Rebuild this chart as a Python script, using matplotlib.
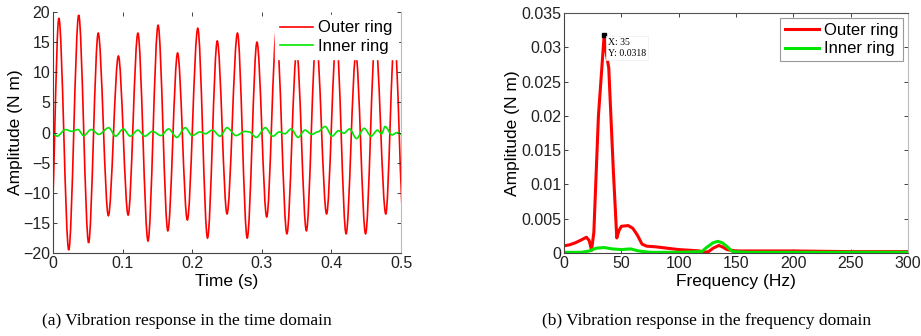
import matplotlib
matplotlib.use("Agg")
import matplotlib.pyplot as plt
from matplotlib.path import Path
from matplotlib.patches import PathPatch
from matplotlib.lines import Line2D
from matplotlib.ticker import FuncFormatter

# time domain: extrema of the outer ring signal (s, N m)
outer_t = [-0.0035, 0.0085, 0.0227, 0.037, 0.0512, 0.065, 0.0796, 0.094, 0.108,
           0.122, 0.1365, 0.151, 0.165, 0.179, 0.193, 0.208, 0.222, 0.236, 0.250,
           0.265, 0.279, 0.293, 0.307, 0.321, 0.336, 0.350, 0.364, 0.378, 0.393,
           0.407, 0.421, 0.435, 0.449, 0.463, 0.478, 0.4905, 0.504]
outer_v = [-19.0, 19.0, -19.5, 19.5, -18.3, 16.5, -13.8, 12.7, -13.7,
           16.5, -18.0, 17.8, -16.3, 13.2, -14.5, 17.3, -17.5, 15.2, -13.5,
           16.5, -17.5, 15.0, -14.0, 17.0, -16.8, 13.5, -16.3, 16.0, -13.5,
           16.0, -16.8, 13.0, -16.8, 16.0, -13.5, 16.0, -16.0]

# time domain: extrema of the inner ring signal
inner_t = [0.000, 0.006, 0.018, 0.027, 0.036, 0.044, 0.055, 0.066, 0.080, 0.090,
           0.101, 0.111, 0.122, 0.132, 0.143, 0.155, 0.166, 0.178, 0.190, 0.200,
           0.211, 0.219, 0.229, 0.240, 0.250, 0.263, 0.276, 0.282, 0.292, 0.305,
           0.316, 0.325, 0.333, 0.342, 0.352, 0.362, 0.372, 0.380, 0.391, 0.401,
           0.410, 0.418, 0.426, 0.436, 0.447, 0.457, 0.466, 0.472, 0.477, 0.487,
           0.494, 0.500]
inner_v = [-0.2, -0.6, 0.5, 0.2, 0.5, -0.5, 0.5, -0.3, 0.8, -0.6,
           0.6, -0.6, 0.4, -0.6, 0.2, -0.5, 0.6, -0.8, 0.8, -0.5,
           0.1, -0.2, 0.4, -0.6, 0.8, -0.5, 0.2, 0.1, -0.8, 0.8,
           -0.6, 0.1, -0.2, 0.6, -0.8, 0.4, -0.3, 0.1, 1.0, -0.6,
           0.3, -0.1, 0.6, -1.0, 0.7, -0.6, 0.4, -0.2, 1.0, -0.4,
           0.0, -0.3]

# frequency domain (Hz, N m)
outer_f = [0, 5, 10, 15, 19.5, 22, 24, 26, 30, 35, 37, 39, 43, 46, 48, 50, 56, 60,
           64, 68, 72, 80, 90, 100, 110, 118, 122, 126, 130, 135, 138, 142, 146,
           150, 170, 200, 250, 300]
outer_a = [0.00105, 0.0012, 0.0015, 0.0019, 0.0023, 0.0018, 0.0004, 0.003, 0.02,
           0.0318, 0.029, 0.027, 0.012, 0.0022, 0.0033, 0.0039, 0.004, 0.0036,
           0.0026, 0.0013, 0.001, 0.0009, 0.0007, 0.0005, 0.0004, 0.0003, 0.0001,
           0.0002, 0.0007, 0.0011, 0.0009, 0.0005, 0.0004, 0.0003, 0.0003,
           0.0003, 0.0002, 0.0002]
inner_f = [0, 15, 22, 28, 35, 42, 50, 58, 65, 75, 100, 120, 125, 130, 134, 138,
           143, 147, 160, 200, 300]
inner_a = [0.0001, 0.0001, 0.0003, 0.0007, 0.0008, 0.0006, 0.0005, 0.0006, 0.0003,
           0.0001, 0.0001, 0.0002, 0.0009, 0.0015, 0.0017, 0.0015, 0.0008, 0.0002,
           0.0001, 0.0001, 0.0001]

peak_f, peak_a = 35, 0.0318
labels = ["Outer ring", "Inner ring"]
red = "#ff0000"
green = "#00e600"


def wave_path(t, v):
    # smooth half-waves between extrema (horizontal tangent at each extremum)
    verts = [(t[0], v[0])]
    codes = [Path.MOVETO]
    for i in range(len(t) - 1):
        dt = t[i + 1] - t[i]
        verts += [(t[i] + dt / 3, v[i]), (t[i + 1] - dt / 3, v[i + 1]), (t[i + 1], v[i + 1])]
        codes += [Path.CURVE4] * 3
    return Path(verts, codes)


def style_axes(ax):
    ax.tick_params(direction="in", length=3, width=0.6, top=True, right=True,
                   labelsize=11.5, colors="#222222", pad=2)
    for side in ["top", "right"]:
        ax.spines[side].set_color("#bbbbbb")
    for side in ["left", "bottom"]:
        ax.spines[side].set_color("#444444")
    for sp in ax.spines.values():
        sp.set_linewidth(0.8)


plt.rcParams["font.family"] = ["Liberation Sans", "DejaVu Sans"]
fig = plt.figure(figsize=(9.21, 3.36), dpi=100)

# (a) time domain
ax1 = fig.add_axes([0.0575, 0.247, 0.378, 0.717])
ax1.add_patch(PathPatch(wave_path(outer_t, outer_v), fill=False, edgecolor=red, lw=1.2))
ax1.add_patch(PathPatch(wave_path(inner_t, inner_v), fill=False, edgecolor=green, lw=1.2))
ax1.set_xlim(0, 0.5)
ax1.set_ylim(-20, 20)
ax1.set_xticks([0, 0.1, 0.2, 0.3, 0.4, 0.5])
ax1.set_yticks(range(-20, 21, 5))
ax1.xaxis.set_major_formatter(FuncFormatter(lambda x, p: "%g" % x))
ax1.set_xlabel("Time (s)", fontsize=12.5, labelpad=2)
ax1.set_ylabel("Amplitude (N m)", fontsize=12.5, labelpad=0)
style_axes(ax1)
ax1.spines["top"].set_visible(False)
h1 = [Line2D([], [], color=red, lw=1.2), Line2D([], [], color=green, lw=1.2)]
leg1 = ax1.legend(h1, labels, loc="upper right", fontsize=12, frameon=True,
                  fancybox=False, edgecolor="white", framealpha=1,
                  borderaxespad=0.2, handlelength=2.0, handletextpad=0.3,
                  labelspacing=0.2, borderpad=0.3)

# (b) frequency domain
ax2 = fig.add_axes([0.6124, 0.247, 0.3736, 0.714])
ax2.plot(outer_f, outer_a, color=red, lw=2.2)
ax2.plot(inner_f, inner_a, color=green, lw=2.2)
ax2.set_xlim(0, 300)
ax2.set_ylim(0, 0.035)
ax2.set_xticks(range(0, 301, 50))
ax2.set_yticks([0, 0.005, 0.01, 0.015, 0.02, 0.025, 0.03, 0.035])
ax2.yaxis.set_major_formatter(FuncFormatter(lambda y, p: "%g" % round(y, 4)))
ax2.set_xlabel("Frequency (Hz)", fontsize=12.5, labelpad=2)
ax2.set_ylabel("Amplitude (N m)", fontsize=12.5, labelpad=1)
style_axes(ax2)
ax2.spines["top"].set_color("#555555")
ax2.plot([peak_f], [peak_a], "s", color="black", ms=3.5)
ax2.text(peak_f + 3, peak_a - 0.0004, "X: %g\nY: %g" % (peak_f, peak_a),
         fontsize=7, family="Liberation Serif", va="top", ha="left", linespacing=1.3,
         bbox=dict(boxstyle="square,pad=0.2", fc="white", ec="#eeeeee", lw=0.5))
leg2 = ax2.legend(loc="upper right", labels=labels, fontsize=12, frameon=True,
                  fancybox=False, edgecolor="#999999", framealpha=1,
                  borderaxespad=0.3, handlelength=2.0, handletextpad=0.3,
                  labelspacing=0.2, borderpad=0.3)
leg2.get_frame().set_linewidth(0.8)

fig.text(0.203, 0.045, "(a) Vibration response in the time domain",
         family="Liberation Serif", fontsize=12.5, ha="center", va="center")
fig.text(0.767, 0.045, "(b) Vibration response in the frequency domain",
         family="Liberation Serif", fontsize=12.5, ha="center", va="center")

fig.savefig("out.png", dpi=100)
